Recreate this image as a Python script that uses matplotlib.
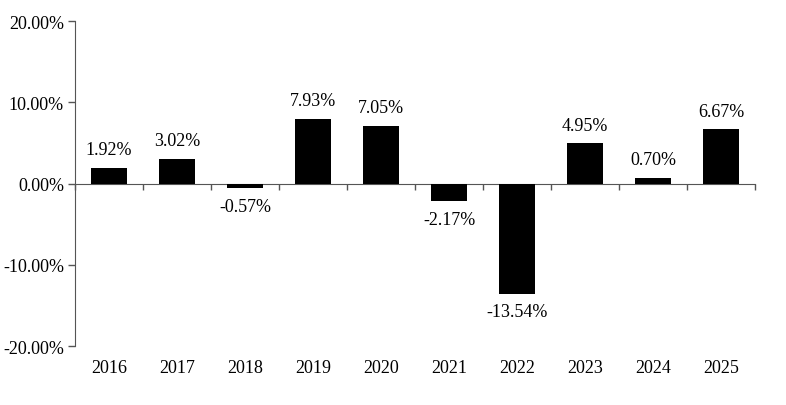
import matplotlib
matplotlib.use("Agg")
import matplotlib.pyplot as plt
import numpy as np

years = ["2016", "2017", "2018", "2019", "2020", "2021", "2022", "2023", "2024", "2025"]
returns = [1.92, 3.02, -0.57, 7.93, 7.05, -2.17, -13.54, 4.95, 0.70, 6.67]
yticks = [-20, -10, 0, 10, 20]

plt.rcParams['font.family'] = ['Liberation Serif', 'DejaVu Serif']
FS = 13

fig = plt.figure(figsize=(7.86, 4.06), dpi=100)
ax = fig.add_axes([75/786, 1-347/406, 680/786, 325/406])

x = np.arange(len(years))
ax.bar(x, returns, width=0.52, color='black', zorder=3)

ax.set_xlim(-0.5, len(years) - 0.5)
ax.set_ylim(-20, 20)
ax.set_yticks(yticks)
ax.set_yticklabels([f"{v:.2f}%" for v in yticks], fontsize=FS)

for s in ['top', 'right']:
    ax.spines[s].set_visible(False)
ax.spines['left'].set_color('#555555')
ax.spines['bottom'].set_position(('data', 0))
ax.spines['bottom'].set_color('#555555')
ax.tick_params(axis='y', length=5, width=1, color='#555555', pad=3)

ax.set_xticks(x)
ax.set_xticklabels([])
ax.tick_params(axis='x', which='major', length=0)
ax.set_xticks(np.arange(len(years) + 1) - 0.5, minor=True)
ax.tick_params(axis='x', which='minor', length=4, width=1, color='#555555', direction='out')

trans = ax.get_xaxis_transform()
for xi, yr in zip(x, years):
    ax.text(xi, -0.04, yr, transform=trans, ha='center', va='top', fontsize=FS)

for xi, v in zip(x, returns):
    if v >= 0:
        ax.annotate(f"{v:.2f}%", (xi, v), xytext=(0, 7), textcoords='offset points',
                    ha='center', va='bottom', fontsize=FS)
    else:
        ax.annotate(f"{v:.2f}%", (xi, v), xytext=(0, -7), textcoords='offset points',
                    ha='center', va='top', fontsize=FS)

fig.savefig("out.png", dpi=100)
